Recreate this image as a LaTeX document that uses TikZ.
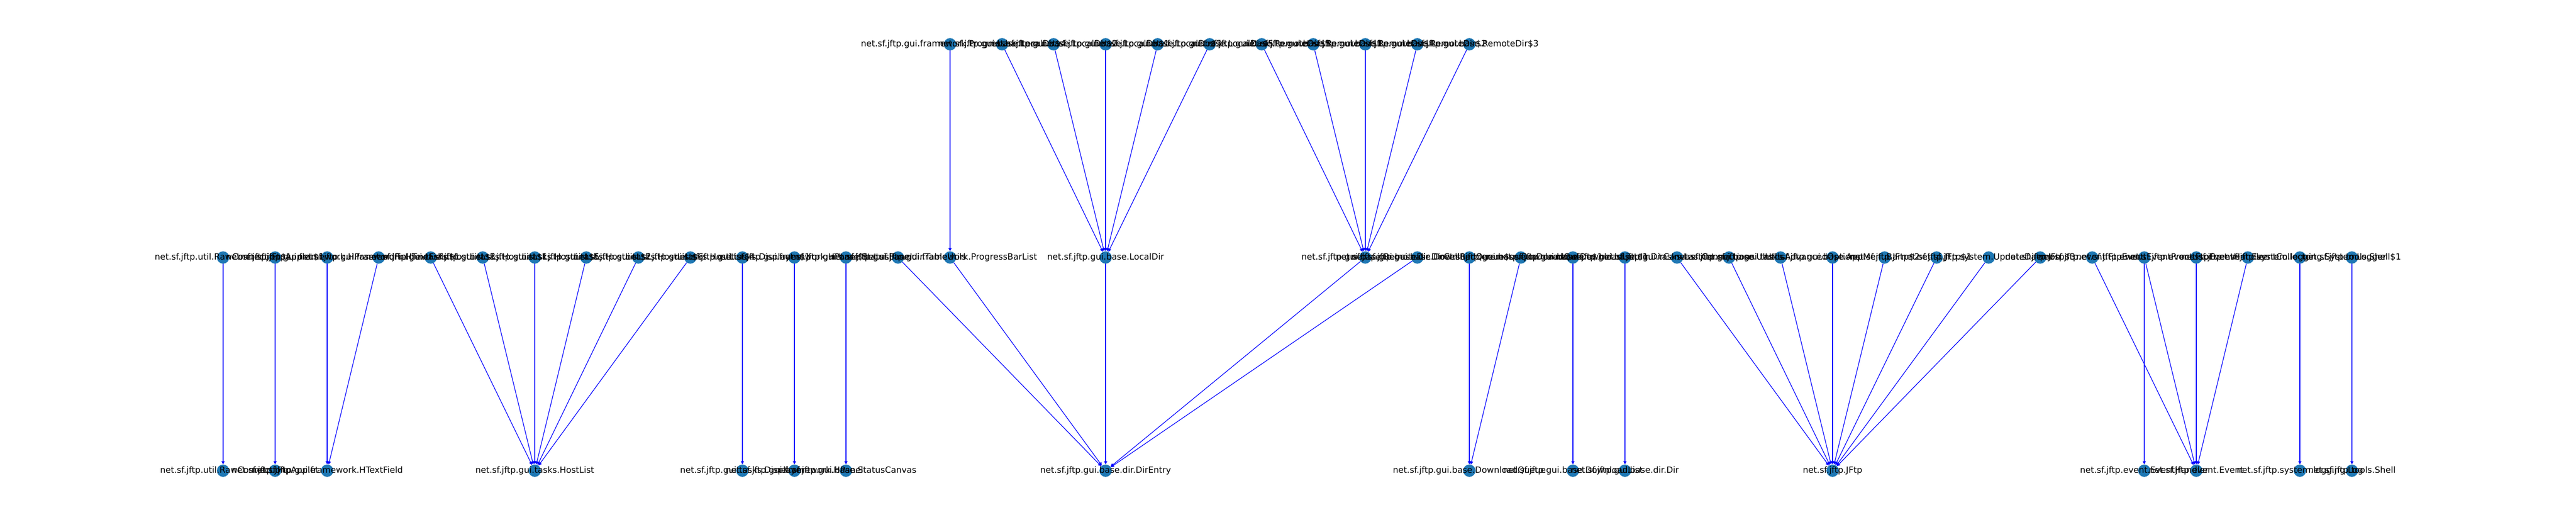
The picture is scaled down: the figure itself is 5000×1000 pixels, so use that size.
\documentclass[tikz,border=0pt]{standalone}
\usepackage{fontspec}
\setmainfont{DejaVu Sans}
\usetikzlibrary{arrows.meta}
\definecolor{nodeblue}{HTML}{1F78B4}
\tikzset{
  pkg/.style={circle, fill=nodeblue, inner sep=0pt, minimum size=17.3pt},
  tag/.style={font=\fontsize{12}{14}\selectfont, inner sep=0pt},
  dep/.style={draw=blue, line width=0.9pt, -{Triangle[length=4.5pt,width=4.5pt]}}
}

\begin{document}
\begin{tikzpicture}[x=0.01in, y=-0.01in]
            \fill[white] (0,0) rectangle (5000,1000);
            \useasboundingbox (0,0) rectangle (5000,1000);
            % top row
            \node[pkg] (pbitem) at (1844,86) {};
            \node[pkg] (ldird) at (1945,86) {};
            \node[pkg] (ldirb) at (2045,86) {};
            \node[pkg] (ldira) at (2146,86) {};
            \node[pkg] (ldirc) at (2247,86) {};
            \node[pkg] (ldire) at (2348,86) {};
            \node[pkg] (rdire) at (2449,86) {};
            \node[pkg] (rdira) at (2549,86) {};
            \node[pkg] (rdird) at (2650,86) {};
            \node[pkg] (rdirb) at (2751,86) {};
            \node[pkg] (rdirc) at (2852,86) {};
            % middle row
            \node[pkg] (rawa) at (433,500) {};
            \node[pkg] (appleta) at (534,500) {};
            \node[pkg] (hpass) at (635,500) {};
            \node[pkg] (htexta) at (735,500) {};
            \node[pkg] (hosta) at (836,500) {};
            \node[pkg] (hostb) at (937,500) {};
            \node[pkg] (hostc) at (1038,500) {};
            \node[pkg] (hostd) at (1138,500) {};
            \node[pkg] (hoste) at (1239,500) {};
            \node[pkg] (hostf) at (1340,500) {};
            \node[pkg] (dispa) at (1441,500) {};
            \node[pkg] (hpanela) at (1542,500) {};
            \node[pkg] (statpan) at (1642,500) {};
            \node[pkg] (tblutil) at (1743,500) {};
            \node[pkg] (pblist) at (1844,500) {};
            \node[pkg] (ldir) at (2146,500) {};
            \node[pkg] (rdir) at (2650,500) {};
            \node[pkg] (dcell) at (2751,500) {};
            \node[pkg] (qdown) at (2852,500) {};
            \node[pkg] (dqa) at (2952,500) {};
            \node[pkg] (dla) at (3053,500) {};
            \node[pkg] (dcanvas) at (3154,500) {};
            \node[pkg] (lastconn) at (3255,500) {};
            \node[pkg] (uiutil) at (3356,500) {};
            \node[pkg] (advopt) at (3456,500) {};
            \node[pkg] (menubar) at (3557,500) {};
            \node[pkg] (jftpb) at (3658,500) {};
            \node[pkg] (jftpa) at (3759,500) {};
            \node[pkg] (updd) at (3860,500) {};
            \node[pkg] (jftpc) at (3960,500) {};
            \node[pkg] (ftpev) at (4061,500) {};
            \node[pkg] (evproc) at (4162,500) {};
            \node[pkg] (ftpevh) at (4263,500) {};
            \node[pkg] (evcoll) at (4363,500) {};
            \node[pkg] (syslog) at (4464,500) {};
            \node[pkg] (shella) at (4565,500) {};
            % bottom row
            \node[pkg] (raw) at (433,914) {};
            \node[pkg] (applet) at (534,914) {};
            \node[pkg] (htext) at (635,914) {};
            \node[pkg] (hostlist) at (1038,914) {};
            \node[pkg] (disp) at (1441,914) {};
            \node[pkg] (hpanel) at (1542,914) {};
            \node[pkg] (statcv) at (1642,914) {};
            \node[pkg] (direntry) at (2146,914) {};
            \node[pkg] (dlqueue) at (2852,914) {};
            \node[pkg] (dllist) at (3053,914) {};
            \node[pkg] (dir) at (3154,914) {};
            \node[pkg] (jftp) at (3557,914) {};
            \node[pkg] (evh) at (4162,914) {};
            \node[pkg] (ev) at (4263,914) {};
            \node[pkg] (log) at (4464,914) {};
            \node[pkg] (shell) at (4565,914) {};

            % dependencies
            \draw[dep] (pbitem) -- (pblist);
            \draw[dep] (ldird) -- (ldir);
            \draw[dep] (ldirb) -- (ldir);
            \draw[dep] (ldira) -- (ldir);
            \draw[dep] (ldirc) -- (ldir);
            \draw[dep] (ldire) -- (ldir);
            \draw[dep] (rdire) -- (rdir);
            \draw[dep] (rdira) -- (rdir);
            \draw[dep] (rdird) -- (rdir);
            \draw[dep] (rdirb) -- (rdir);
            \draw[dep] (rdirc) -- (rdir);
            \draw[dep] (rawa) -- (raw);
            \draw[dep] (appleta) -- (applet);
            \draw[dep] (hpass) -- (htext);
            \draw[dep] (htexta) -- (htext);
            \draw[dep] (hosta) -- (hostlist);
            \draw[dep] (hostb) -- (hostlist);
            \draw[dep] (hostc) -- (hostlist);
            \draw[dep] (hostd) -- (hostlist);
            \draw[dep] (hoste) -- (hostlist);
            \draw[dep] (hostf) -- (hostlist);
            \draw[dep] (dispa) -- (disp);
            \draw[dep] (hpanela) -- (hpanel);
            \draw[dep] (statpan) -- (statcv);
            \draw[dep] (tblutil) -- (direntry);
            \draw[dep] (pblist) -- (direntry);
            \draw[dep] (ldir) -- (direntry);
            \draw[dep] (rdir) -- (direntry);
            \draw[dep] (dcell) -- (direntry);
            \draw[dep] (qdown) -- (dlqueue);
            \draw[dep] (dqa) -- (dlqueue);
            \draw[dep] (dla) -- (dllist);
            \draw[dep] (dcanvas) -- (dir);
            \draw[dep] (lastconn) -- (jftp);
            \draw[dep] (uiutil) -- (jftp);
            \draw[dep] (advopt) -- (jftp);
            \draw[dep] (menubar) -- (jftp);
            \draw[dep] (jftpb) -- (jftp);
            \draw[dep] (jftpa) -- (jftp);
            \draw[dep] (updd) -- (jftp);
            \draw[dep] (jftpc) -- (jftp);
            \draw[dep] (ftpev) -- (ev);
            \draw[dep] (evproc) -- (evh);
            \draw[dep] (evproc) -- (ev);
            \draw[dep] (ftpevh) -- (ev);
            \draw[dep] (evcoll) -- (ev);
            \draw[dep] (syslog) -- (log);
            \draw[dep] (shella) -- (shell);

            % class names on top
            \node[tag] (pbitem-t) at (pbitem) {net.sf.jftp.gui.framework.ProgressbarItem};
            \node[tag] (ldird-t) at (ldird) {net.sf.jftp.gui.base.LocalDir\$4};
            \node[tag] (ldirb-t) at (ldirb) {net.sf.jftp.gui.base.LocalDir\$2};
            \node[tag] (ldira-t) at (ldira) {net.sf.jftp.gui.base.LocalDir\$1};
            \node[tag] (ldirc-t) at (ldirc) {net.sf.jftp.gui.base.LocalDir\$3};
            \node[tag] (ldire-t) at (ldire) {net.sf.jftp.gui.base.LocalDir\$5};
            \node[tag] (rdire-t) at (rdire) {net.sf.jftp.gui.base.RemoteDir\$5};
            \node[tag] (rdira-t) at (rdira) {net.sf.jftp.gui.base.RemoteDir\$1};
            \node[tag] (rdird-t) at (rdird) {net.sf.jftp.gui.base.RemoteDir\$4};
            \node[tag] (rdirb-t) at (rdirb) {net.sf.jftp.gui.base.RemoteDir\$2};
            \node[tag] (rdirc-t) at (rdirc) {net.sf.jftp.gui.base.RemoteDir\$3};
            \node[tag] (rawa-t) at (rawa) {net.sf.jftp.util.RawConnection\$1};
            \node[tag] (appleta-t) at (appleta) {net.sf.jftp.JFtpApplet\$1};
            \node[tag] (hpass-t) at (hpass) {net.sf.jftp.gui.framework.HPasswordField};
            \node[tag] (htexta-t) at (htexta) {net.sf.jftp.gui.framework.HTextField\$1};
            \node[tag] (hosta-t) at (hosta) {net.sf.jftp.gui.tasks.HostList\$3};
            \node[tag] (hostb-t) at (hostb) {net.sf.jftp.gui.tasks.HostList\$1};
            \node[tag] (hostc-t) at (hostc) {net.sf.jftp.gui.tasks.HostList\$5};
            \node[tag] (hostd-t) at (hostd) {net.sf.jftp.gui.tasks.HostList\$2};
            \node[tag] (hoste-t) at (hoste) {net.sf.jftp.gui.tasks.HostList\$6};
            \node[tag] (hostf-t) at (hostf) {net.sf.jftp.gui.tasks.HostList\$4};
            \node[tag] (dispa-t) at (dispa) {net.sf.jftp.gui.tasks.Displayer\$1};
            \node[tag] (hpanela-t) at (hpanela) {net.sf.jftp.gui.framework.HPanel\$1};
            \node[tag] (statpan-t) at (statpan) {net.sf.jftp.gui.base.StatusPanel};
            \node[tag] (tblutil-t) at (tblutil) {net.sf.jftp.gui.base.dir.TableUtils};
            \node[tag] (pblist-t) at (pblist) {net.sf.jftp.gui.framework.ProgressBarList};
            \node[tag] (ldir-t) at (ldir) {net.sf.jftp.gui.base.LocalDir};
            \node[tag] (rdir-t) at (rdir) {net.sf.jftp.gui.base.RemoteDir};
            \node[tag] (dcell-t) at (dcell) {net.sf.jftp.gui.base.dir.DirCellRenderer};
            \node[tag] (qdown-t) at (qdown) {net.sf.jftp.gui.base.DownloadQueue\$queueDownloader};
            \node[tag] (dqa-t) at (dqa) {net.sf.jftp.gui.base.DownloadQueue\$1};
            \node[tag] (dla-t) at (dla) {net.sf.jftp.gui.base.DownloadList\$1};
            \node[tag] (dcanvas-t) at (dcanvas) {net.sf.jftp.gui.base.dir.DirCanvas};
            \node[tag] (lastconn-t) at (lastconn) {net.sf.jftp.gui.tasks.LastConnections};
            \node[tag] (uiutil-t) at (uiutil) {net.sf.jftp.gui.base.UIUtils};
            \node[tag] (advopt-t) at (advopt) {net.sf.jftp.gui.tasks.AdvancedOptions};
            \node[tag] (menubar-t) at (menubar) {net.sf.jftp.gui.base.AppMenuBar};
            \node[tag] (jftpb-t) at (jftpb) {net.sf.jftp.JFtp\$2};
            \node[tag] (jftpa-t) at (jftpa) {net.sf.jftp.JFtp\$1};
            \node[tag] (updd-t) at (updd) {net.sf.jftp.system.UpdateDaemon};
            \node[tag] (jftpc-t) at (jftpc) {net.sf.jftp.JFtp\$3};
            \node[tag] (ftpev-t) at (ftpev) {net.sf.jftp.event.FtpEvent};
            \node[tag] (evproc-t) at (evproc) {net.sf.jftp.event.EventProcessor};
            \node[tag] (ftpevh-t) at (ftpevh) {net.sf.jftp.event.FtpEventHandler};
            \node[tag] (evcoll-t) at (evcoll) {net.sf.jftp.event.EventCollector};
            \node[tag] (syslog-t) at (syslog) {net.sf.jftp.system.logging.SystemLogger};
            \node[tag] (shella-t) at (shella) {net.sf.jftp.tools.Shell\$1};
            \node[tag] (raw-t) at (raw) {net.sf.jftp.util.RawConnection};
            \node[tag] (applet-t) at (applet) {net.sf.jftp.JFtpApplet};
            \node[tag] (htext-t) at (htext) {net.sf.jftp.gui.framework.HTextField};
            \node[tag] (hostlist-t) at (hostlist) {net.sf.jftp.gui.tasks.HostList};
            \node[tag] (disp-t) at (disp) {net.sf.jftp.gui.tasks.Displayer};
            \node[tag] (hpanel-t) at (hpanel) {net.sf.jftp.gui.framework.HPanel};
            \node[tag] (statcv-t) at (statcv) {net.sf.jftp.gui.base.StatusCanvas};
            \node[tag] (direntry-t) at (direntry) {net.sf.jftp.gui.base.dir.DirEntry};
            \node[tag] (dlqueue-t) at (dlqueue) {net.sf.jftp.gui.base.DownloadQueue};
            \node[tag] (dllist-t) at (dllist) {net.sf.jftp.gui.base.DownloadList};
            \node[tag] (dir-t) at (dir) {net.sf.jftp.gui.base.dir.Dir};
            \node[tag] (jftp-t) at (jftp) {net.sf.jftp.JFtp};
            \node[tag] (evh-t) at (evh) {net.sf.jftp.event.EventHandler};
            \node[tag] (ev-t) at (ev) {net.sf.jftp.event.Event};
            \node[tag] (log-t) at (log) {net.sf.jftp.system.logging.Log};
            \node[tag] (shell-t) at (shell) {net.sf.jftp.tools.Shell};
        \end{tikzpicture}
\end{document}
